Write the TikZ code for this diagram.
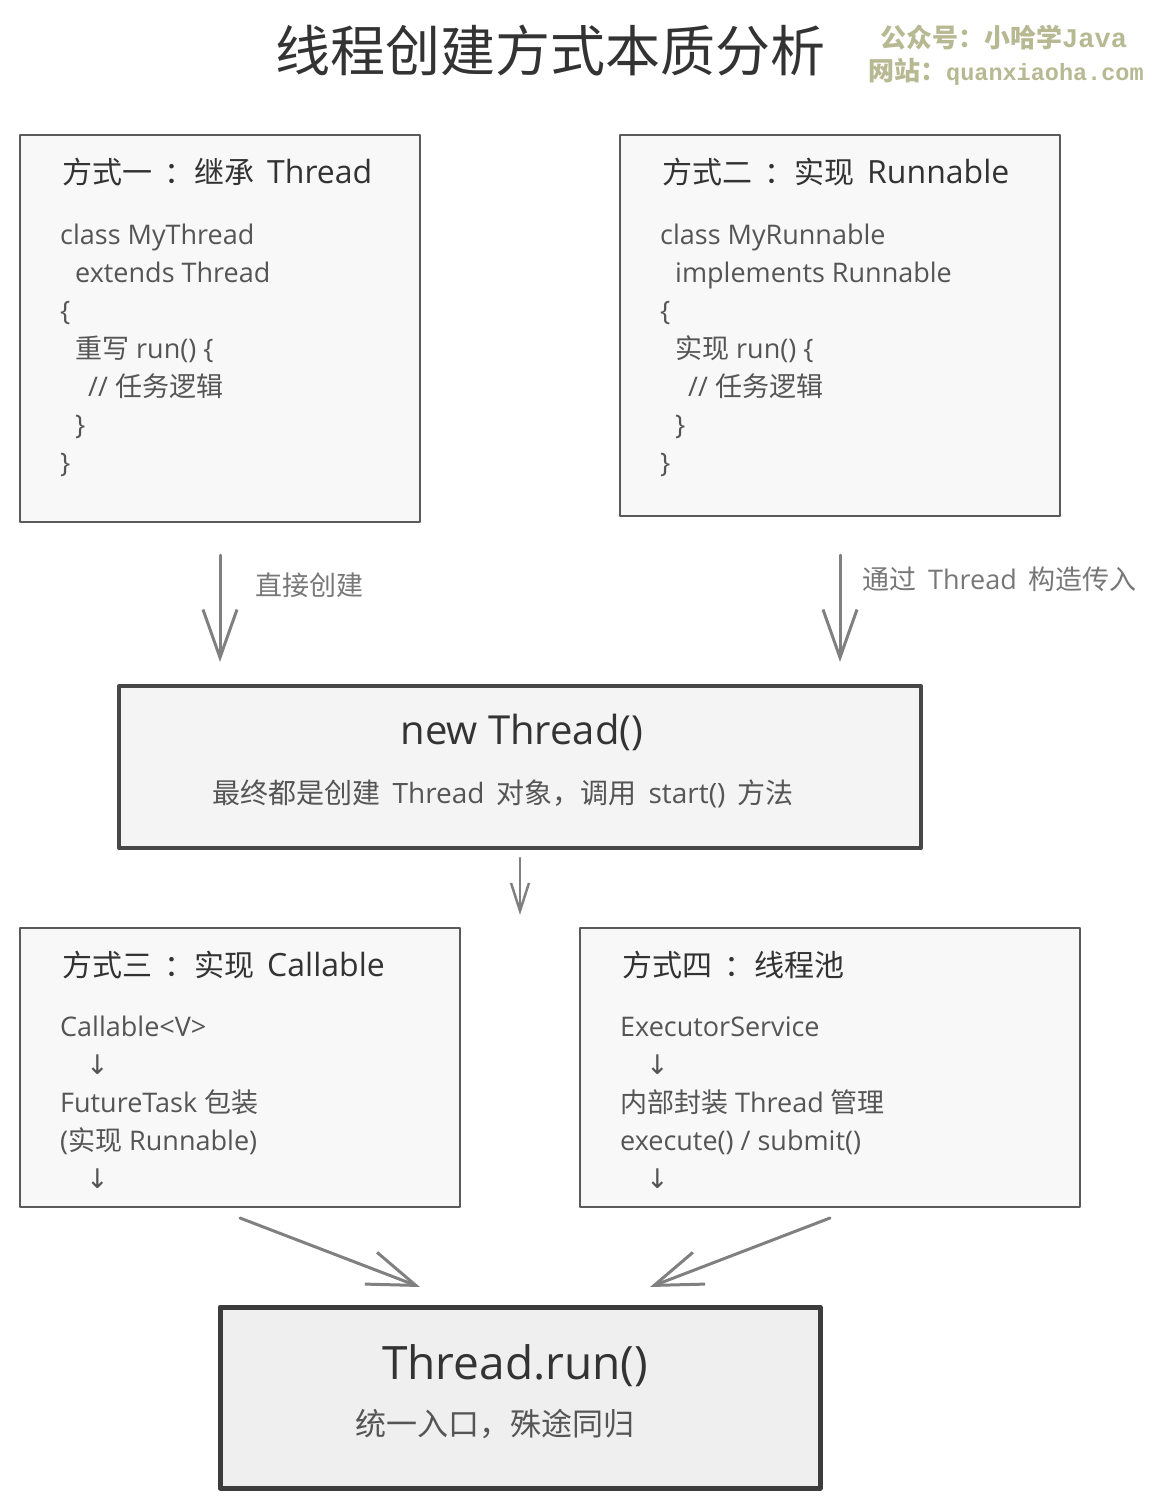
\documentclass[tikz,border=0pt]{standalone}
\usepackage{fontspec}
\setmainfont{Open Sans}
\newfontfamily\cjk{Noto Sans CJK SC}
\newfontfamily\symfont{DejaVu Sans}
\newfontfamily\wmmono{Liberation Mono}
\newcommand{\zh}[1]{{\cjk #1}}
\newcommand{\dn}{{\symfont ↓}}
\newcommand{\gap}{\hspace{12pt}}
\newcommand{\hd}[1]{{\fontsize{32}{35}\selectfont #1}}
\usetikzlibrary{arrows.meta}
\definecolor{ink}{HTML}{333333}
\definecolor{codeink}{HTML}{555555}
\definecolor{labelink}{HTML}{777777}
\definecolor{wmcolor}{HTML}{B6B992}
\definecolor{cardline}{HTML}{5A5A5A}
\definecolor{cardfill}{HTML}{F8F8F8}
\definecolor{hubline}{HTML}{474747}
\definecolor{hubfill}{HTML}{F4F4F4}
\definecolor{sinkline}{HTML}{3C3C3C}
\definecolor{sinkfill}{HTML}{EFEFEF}
\definecolor{flowgray}{HTML}{808080}
\begin{document}
\begin{tikzpicture}[x=1pt, y=-1pt, line join=round, line cap=round,
	card/.style={draw=cardline, fill=cardfill, line width=2pt, inner sep=0pt, outer sep=0pt},
	hub/.style={card, draw=hubline, fill=hubfill, line width=4pt},
	sink/.style={card, draw=sinkline, fill=sinkfill, line width=5pt},
	head/.style={anchor=base west, inner sep=0pt, text=ink, font=\fontsize{30}{35}\selectfont},
	code/.style={anchor=base west, inner sep=0pt, text=codeink, font=\fontsize{27}{30}\selectfont},
	note/.style={anchor=base west, inner sep=0pt, text=labelink, font=\fontsize{27}{30}\selectfont},
	wm/.style={anchor=base west, inner sep=0pt, text=wmcolor, font=\bfseries\fontsize{26}{30}\selectfont},
	flow/.style={draw=flowgray, line width=3pt, -{Straight Barb[length=48pt,width=34pt]}},
	flowsmall/.style={draw=flowgray, line width=2.5pt, -{Straight Barb[length=28pt,width=18pt]}}]
	\useasboundingbox (0,0) rectangle (1170,1508);
	\node[anchor=base west, inner sep=0pt, text=ink, font=\fontsize{55}{60}\selectfont] (title) at (275,71) {\zh{线程创建方式本质分析}};
	\node[wm] (wm1) at (880,47) {\zh{公众号：小哈学}{\wmmono\fontsize{27}{30}\selectfont Java}};
	\node[wm] (wm2) at (868,80) {\zh{网站：}{\wmmono\fontsize{23.5}{30}\selectfont quanxiaoha.com}};
	\node[card, minimum width=400pt, minimum height=387pt] (m1) at (220,328.5) {};
	\node[card, minimum width=440pt, minimum height=381pt] (m2) at (840,325.5) {};
	\node[hub, minimum width=802pt, minimum height=162pt] (nt) at (520,767) {};
	\node[card, minimum width=440pt, minimum height=279pt] (m3) at (240,1067.5) {};
	\node[card, minimum width=500pt, minimum height=279pt] (m4) at (830,1067.5) {};
	\node[sink, minimum width=600pt, minimum height=181pt] (tr) at (520,1397.5) {};
	\node[head] (h1) at (62,183) {\zh{方式一}\hspace{12pt}\zh{：继承}\hspace{13pt}\hd{Thread}};
	\node[head] (h2) at (662,183) {\zh{方式二}\hspace{12pt}\zh{：实现}\hspace{13pt}\hd{Runnable}};
	\node[head] (h3) at (62,976) {\zh{方式三}\hspace{12pt}\zh{：实现}\hspace{13pt}\hd{Callable}};
	\node[head] (h4) at (622,976) {\zh{方式四}\hspace{12pt}\zh{：线程池}};
	\foreach \t [count=\i] in {class MyThread, \hspace{15pt}extends Thread, \{, \hspace{15pt}\zh{重写} run() \{, \hspace{28pt}// \zh{任务逻辑}, \hspace{15pt}\}, \}}
		\node[code] (m1l\i) at (60,{206+38*\i}) {\t};
	\foreach \t [count=\i] in {class MyRunnable, \hspace{15pt}implements Runnable, \{, \hspace{15pt}\zh{实现} run() \{, \hspace{28pt}// \zh{任务逻辑}, \hspace{15pt}\}, \}}
		\node[code] (m2l\i) at (660,{206+38*\i}) {\t};
	\foreach \t [count=\i] in {Callable<V>, \hspace{26pt}\dn, FutureTask \zh{包装}, (\zh{实现} Runnable), \hspace{26pt}\dn}
		\node[code] (m3l\i) at (60,{998+38*\i}) {\t};
	\foreach \t [count=\i] in {ExecutorService, \hspace{26pt}\dn, \zh{内部封装} Thread \zh{管理}, execute() / submit(), \hspace{26pt}\dn}
		\node[code] (m4l\i) at (620,{998+38*\i}) {\t};
	\node[anchor=base, inner sep=0pt, text=ink, font=\fontsize{40}{44}\selectfont] (ntt) at (522,744) {new Thread()};
	\node[anchor=base, inner sep=0pt, text=codeink, font=\fontsize{28}{30}\selectfont] (nts) at (503,803) {\zh{最终都是创建}\gap Thread\gap\zh{对象，调用}\gap start()\gap\zh{方法}};
	\node[anchor=base, inner sep=0pt, text=ink, font=\fontsize{46}{50}\selectfont] (trt) at (515,1379) {Thread.run()};
	\node[anchor=base, inner sep=0pt, text=codeink, font=\fontsize{31}{34}\selectfont] (trs) at (495,1435) {\zh{统一入口，殊途同归}};
	\draw[flow, shorten <=33pt, shorten >=24pt] (m1.south) -- (m1.south |- nt.north);
	\draw[flow, shorten <=39pt, shorten >=24pt] (m2.south) -- (m2.south |- nt.north);
	\node[note] (l1) at (255,595) {\zh{直接创建}};
	\node[note] (l2) at (862,589) {\zh{通过}\gap Thread\gap\zh{构造传入}};
	\draw[flowsmall, shorten <=10pt, shorten >=13pt] (nt.south) -- (nt.south |- m3.north);
	\draw[flow] ([yshift=-11pt]m3.south) -- ([xshift=-100pt,yshift=20pt]tr.north);
	\draw[flow] ([yshift=-11pt]m4.south) -- ([xshift=130pt,yshift=20pt]tr.north);
\end{tikzpicture}
\end{document}
